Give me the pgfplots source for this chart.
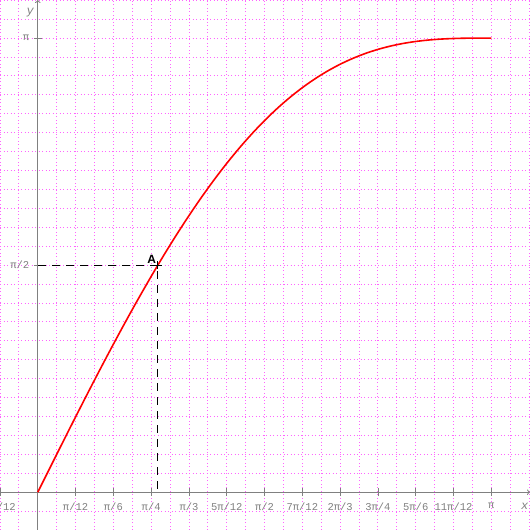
\documentclass[border=0pt]{standalone}
\usepackage{fontspec}
\setmainfont{Liberation Mono}
\newfontfamily\labsans{Liberation Sans}
\usepackage{pgfplots}
\pgfplotsset{compat=1.18}
\definecolor{gridpink}{RGB}{255,100,255}
\definecolor{axgray}{RGB}{128,128,128}
\begin{document}
\begin{tikzpicture}
\begin{axis}[
  name=ax,
  scale only axis, width=530pt, height=530pt,
  xmin=-0.261799, xmax=3.4096, ymin=-0.261799, ymax=3.405,
  axis lines=middle,
  axis line style={draw=axgray, line width=1pt, ->},
  xtick={-0.261799,0,0.261799,0.523599,0.785398,1.047198,1.308997,1.570796,1.832596,2.094395,2.356194,2.617994,2.879793,3.141593},
  xticklabels={-π/12,0,π/12,π/6,π/4,π/3,5π/12,π/2,7π/12,2π/3,3π/4,5π/6,11π/12,π},
  minor xtick={-0.130900,0.130900,0.392699,0.654498,0.916298,1.178097,1.439897,1.701696,1.963495,2.225295,2.487094,2.748894,3.010693,3.272492,3.403392},
  ytick={1.570796,3.141593},
  yticklabels={π/2,π},
  minor ytick={-0.261799,-0.130900,...,3.41},
  minor tick length=0pt,
  major tick length=8pt,
  tick align=center,
  tick style={draw=axgray, line width=0.8pt},
  grid=both,
  major grid style={draw=gridpink, line width=0.9pt, dash pattern=on 0.9pt off 2.6pt},
  minor grid style={draw=gridpink, line width=0.9pt, dash pattern=on 0.9pt off 2.6pt},
  tick label style={font=\fontsize{10.5}{11}\selectfont, text=axgray},
  xticklabel style={anchor=north, yshift=-3pt},
  yticklabel style={anchor=east, xshift=-1pt},
  xlabel={\itshape x}, ylabel={\itshape y},
  xlabel style={at={(axis description cs:0.99,0.045)}, anchor=center, text=axgray, font=\fontsize{12}{12}\selectfont},
  ylabel style={at={(axis description cs:0.057,0.977)}, anchor=center, text=axgray, font=\fontsize{12}{12}\selectfont},
]
\addplot[red, line width=1.6pt, smooth] coordinates {
(0,0) (0.087266,0.174422) (0.174533,0.348181) (0.261799,0.520618) (0.349066,0.691086)
(0.436332,0.858950) (0.523599,1.023599) (0.610865,1.184441) (0.698132,1.340920)
(0.785398,1.492505) (0.872665,1.638709) (0.959931,1.779083) (1.047198,1.913223)
(1.134464,2.040772) (1.221730,2.161423) (1.308997,2.274923) (1.396263,2.381071)
(1.483530,2.479725) (1.570796,2.570796) (1.658063,2.654258) (1.745329,2.730137)
(1.832596,2.798522) (1.919862,2.859555) (2.007129,2.913437) (2.094395,2.960420)
(2.181662,3.000814) (2.268928,3.034972) (2.356194,3.063301) (2.443461,3.086249)
(2.530727,3.104303) (2.617994,3.117994) (2.705260,3.127878) (2.792527,3.134547)
(2.879793,3.138612) (2.967060,3.140708) (3.054326,3.141482) (3.141593,3.141593)
};
\addplot[black, line width=1pt, dash pattern=on 8pt off 6pt] coordinates {
(0,1.570796) (0.8318,1.570796) (0.8318,0)
};
\addplot[black, only marks, mark=+, mark size=4pt, line width=0.9pt] coordinates {
(0.8318,1.570796)
} node[anchor=south east, inner sep=1.5pt, font=\labsans\bfseries\fontsize{12}{12}\selectfont] {A};
\end{axis}
\pgfresetboundingbox
\useasboundingbox (ax.south west) rectangle (ax.north east);
\end{tikzpicture}
\end{document}
